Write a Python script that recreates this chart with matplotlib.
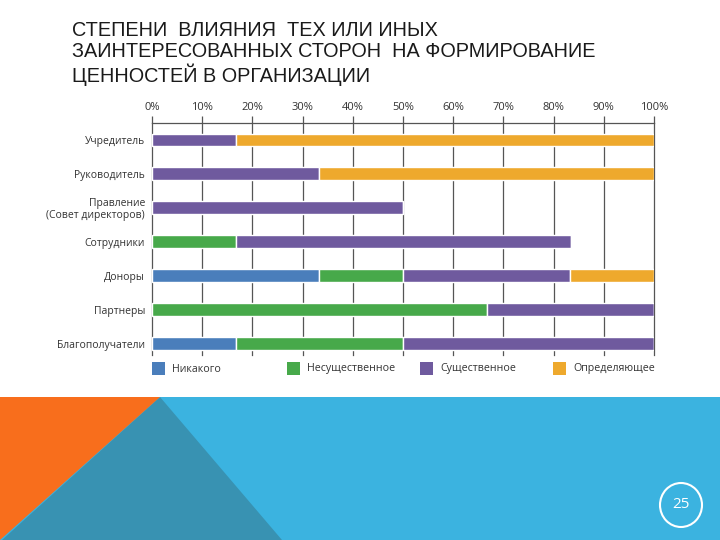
import matplotlib
matplotlib.use("Agg")
import matplotlib.pyplot as plt
from matplotlib.patches import Polygon, Rectangle, Ellipse
import numpy as np

# данные: доля (%) по каждому уровню влияния
stakeholders = ["Учредитель", "Руководитель", "Правление\n(Совет директоров)", "Сотрудники",
                "Доноры", "Партнеры", "Благополучатели"]
levels = ["Никакого", "Несущественное", "Существенное", "Определяющее"]
none_vals = [0, 0, 0, 0, 33.3, 0, 16.7]
minor_vals = [0, 0, 0, 16.7, 16.7, 66.7, 33.3]
major_vals = [16.7, 33.3, 50, 66.7, 33.3, 33.3, 50]
decisive_vals = [83.3, 66.7, 0, 0, 16.7, 0, 0]
xticks = [0, 10, 20, 30, 40, 50, 60, 70, 80, 90, 100]
title = "СТЕПЕНИ  ВЛИЯНИЯ  ТЕХ ИЛИ ИНЫХ\nЗАИНТЕРЕСОВАННЫХ СТОРОН  НА ФОРМИРОВАНИЕ\nЦЕННОСТЕЙ В ОРГАНИЗАЦИИ"
page = "25"

colors = ["#4a7ebb", "#47a94a", "#6f5a9e", "#eea92d"]
W, H = 720, 540

fig = plt.figure(figsize=(7.2, 5.4), dpi=100)

# фон слайда
bg = fig.add_axes([0, 0, 1, 1], zorder=0)
bg.set_xlim(0, W)
bg.set_ylim(H, 0)
bg.axis("off")
bg.add_patch(Rectangle((0, 397), W, H - 397, color="#3bb3e0", lw=0))
bg.add_patch(Polygon([(160, 397), (2, 540), (282, 540)], closed=True, color="#3892b2", lw=0))
bg.add_patch(Polygon([(0, 397), (160, 397), (0, 540)], closed=True, color="#f86e1c", lw=0))
bg.add_patch(Ellipse((681, 505), 42, 44, fill=False, ec="white", lw=1.5))
bg.text(681, 505, page, color="white", fontsize=11, ha="center", va="center", family="Open Sans")
bg.text(72, 21, title, fontsize=14.3, va="top", ha="left", color="#1a1a1a",
        family="Liberation Sans", linespacing=1.13)

# диаграмма
left, right = 152 / W, 654 / W
top, bottom = 123, 355
ax = fig.add_axes([left, 1 - bottom / H, right - left, (bottom - top) / H], zorder=1)
ax.patch.set_alpha(0)

y = np.arange(len(stakeholders))
series = [none_vals, minor_vals, major_vals, decisive_vals]
base = np.zeros(len(stakeholders))
for vals, c in zip(series, colors):
    vals = np.array(vals, dtype=float)
    ax.barh(y, vals, left=base, height=0.38, color=c, edgecolor="white", linewidth=1, zorder=3)
    base += vals

ax.set_xlim(0, 100)
ax.set_ylim(6.33, -0.5)
ax.set_xticks(xticks)
ax.set_xticklabels([f"{t}%" for t in xticks], fontsize=8, color="#333333", family="Open Sans")
ax.xaxis.tick_top()
ax.tick_params(axis="x", direction="out", length=5, width=0.9, color="#555555", pad=2)
ax.set_yticks(y)
ax.set_yticklabels(stakeholders, fontsize=7.5, color="#333333", family="Open Sans", linespacing=1.1)
ax.tick_params(axis="y", length=0, pad=5)
ax.grid(axis="x", color="#555555", linewidth=0.9, zorder=0)
for gl in ax.get_xgridlines():
    gl.set_clip_on(False)
for s in ["left", "right", "bottom"]:
    ax.spines[s].set_visible(False)
ax.spines["top"].set_color("#555555")
ax.spines["top"].set_linewidth(0.9)

# легенда
lx = [152, 287, 420, 553]
for x0, c, lab in zip(lx, colors, levels):
    bg.add_patch(Rectangle((x0, 362), 13, 13, color=c, lw=0))
    bg.text(x0 + 20, 369, lab, fontsize=7.7, va="center", ha="left", color="#333333", family="Open Sans")

fig.savefig("out.png", dpi=100)
